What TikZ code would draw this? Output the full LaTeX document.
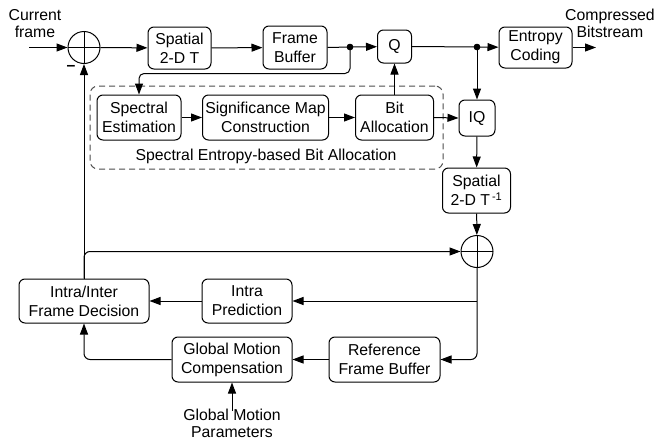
\documentclass[tikz,border=0pt]{standalone}
\usepackage{fontspec}
\setmainfont{Liberation Sans}
\usetikzlibrary{arrows.meta}
\begin{document}
\begin{tikzpicture}[x=1pt,y=-1pt,
  font=\fontsize{15.8}{19}\selectfont,
  line width=1pt,
  blk/.style={draw, rounded corners=6pt, align=center, inner sep=0pt},
  sumnode/.style={draw, circle, minimum size=32pt, inner sep=0pt,
    path picture={\draw (path picture bounding box.north) -- (path picture bounding box.south)
                        (path picture bounding box.west) -- (path picture bounding box.east);}},
  arr/.style={-{Triangle[length=11pt,width=8pt]}},
  junction/.style={circle, fill, draw=none, inner sep=0pt, minimum size=6.5pt},
  freetext/.style={align=center, inner sep=0pt, font=\fontsize{15.8}{17}\selectfont}
]
\useasboundingbox (0,0) rectangle (657,442);

% forward path
\node[sumnode] (s1) at (84,47.5) {};
\node[blk, minimum width=63pt, minimum height=42pt] (t) at (179.5,48) {Spatial\\2-D T};
\node[blk, minimum width=64pt, minimum height=43pt] (fb) at (295,47.5) {Frame\\Buffer};
\node[junction] (d1) at (350,47) {};
\node[blk, minimum width=34pt, minimum height=33pt] (q) at (394.5,46.5) {Q};
\node[junction] (d2) at (477,47) {};
\node[blk, minimum width=73pt, minimum height=41pt] (ec) at (535.5,47.5) {Entropy\\Coding};
\coordinate (out) at (596,47.5);
\coordinate (in) at (29,47.5);

\node[freetext] at (35,24) {Current\\frame};
\node[freetext] at (610,23) {Compressed\\Bitstream};
\node[inner sep=0pt] at (71,68) {\textbf{--}};

% bit allocation group
\node[draw, dashed, dash pattern=on 6pt off 4pt, color=black!70, rounded corners=8pt,
      minimum width=353pt, minimum height=83pt] (grp) at (266.5,127.5) {};
\node[blk, minimum width=84pt, minimum height=45pt] (se) at (139,117.5) {Spectral\\Estimation};
\node[blk, minimum width=126pt, minimum height=45pt] (sm) at (265.5,117.5) {Significance Map\\Construction};
\node[blk, minimum width=78pt, minimum height=45pt] (ba) at (394.5,117.5) {Bit\\Allocation};
\node[inner sep=0pt] at (266,156) {Spectral Entropy-based Bit Allocation};

% reconstruction path
\node[blk, minimum width=36pt, minimum height=36pt] (iq) at (477,118) {IQ};
\node[blk, minimum width=68pt, minimum height=45pt] (ti) at (476.5,190.5) {Spatial\\2-D T\textsuperscript{\,-1}};
\node[sumnode] (s2) at (477,251.5) {};

\node[blk, minimum width=130pt, minimum height=44pt] (ii) at (84,301) {Intra/Inter\\Frame Decision};
\node[blk, minimum width=90pt, minimum height=44pt] (ip) at (247,301) {Intra\\Prediction};
\node[blk, minimum width=120pt, minimum height=45pt] (gmc) at (232,359.5) {Global Motion\\Compensation};
\node[blk, minimum width=111pt, minimum height=45pt] (rfb) at (384.5,359.5) {Reference\\Frame Buffer};
\node[freetext] (gmp) at (232,423) {Global Motion\\Parameters};
\coordinate (gmpin) at (232,411);

% connectors
\draw[arr] (in) -- (s1);
\draw[arr] (s1) -- (t);
\draw[arr] (t) -- (fb);
\draw (fb.east) -- (d1.center);
\draw[arr] (d1.center) -- (q);
\draw (q.east) -- (d2.center);
\draw[arr] (d2.center) -- (ec);
\draw[arr] (ec.east) -- (out);
\draw[arr, rounded corners=5pt] (d1.center) -- (d1 |- 0,73.5) -- (se.north |- 0,73.5) -- (se.north);
\draw[arr] (se) -- (sm);
\draw[arr] (sm) -- (ba);
\draw[arr] (ba.north) -- (q.south);
\draw[arr] (ba.east) -- (iq.west);
\draw[arr] (d2.center) -- (iq.north);
\draw[arr] (iq) -- (ti);
\draw[arr] (ti) -- (s2);
\draw[arr] (ii.north) -- (s1.south);
\draw[arr, rounded corners=6pt] (ii.north) |- (s2.west);
\draw[arr, rounded corners=6pt] (s2.south) |- (rfb.east);
\draw[arr] (s2.south |- ip.east) -- (ip.east);
\draw[arr] (ip) -- (ii);
\draw[arr] (rfb) -- (gmc);
\draw[arr, rounded corners=6pt] (gmc.west) -| (ii.south);
\draw[arr] (gmpin) -- (gmc.south);
% junction dots on top of the lines
\fill (d1) circle (3.2pt);
\fill (d2) circle (3.2pt);
\end{tikzpicture}
\end{document}
